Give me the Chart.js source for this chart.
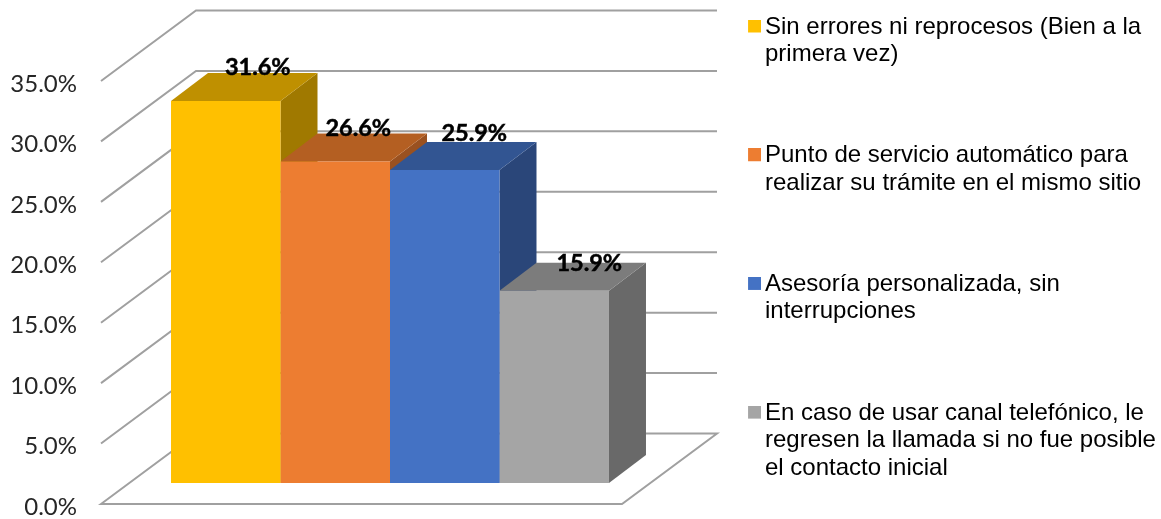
<!DOCTYPE html>
<html>
<head>
<meta charset="utf-8">
<style>html,body{margin:0;padding:0;background:#fff}canvas{display:block}</style>
<script src="https://cdn.jsdelivr.net/npm/chart.js@4"></script>
</head>
<body>
<canvas id="c" width="1161" height="519"></canvas>
<script>
const categories = [""];
const seriesNames = [
  "Sin errores ni reprocesos (Bien a la primera vez)",
  "Punto de servicio automático para realizar su trámite en el mismo sitio",
  "Asesoría personalizada, sin interrupciones",
  "En caso de usar canal telefónico, le regresen la llamada si no fue posible el contacto inicial"
];
const legendLines = [
  ["Sin errores ni reprocesos (Bien a la", "primera vez)", ""],
  ["Punto de servicio automático para", "realizar su trámite en el mismo sitio", ""],
  ["Asesoría personalizada, sin", "interrupciones", ""],
  ["En caso de usar canal telefónico, le", "regresen la llamada si no fue posible", "el contacto inicial"]
];
const seriesValues = [31.6, 26.6, 25.9, 15.9];
const frontColors = ["#FFC000", "#ED7D31", "#4472C4", "#A5A5A5"];
const topColors = ["#BF9000", "#B45F22", "#325592", "#7C7C7C"];
const sideColors = ["#A07900", "#9A5120", "#2A4679", "#696969"];
const labelNudge = [[32, -34], [23, -33], [29.5, -37], [35, -27]];

const WALL = {dx: 95, dy: -70.5};
const BAR = {dx: 37, dy: -28, shiftX: -19, shiftY: -21};
const GRID = "#A0A0A0";
const LEGEND_PAD = 46.5;

function swatch(color) {
  const cv = document.createElement("canvas");
  cv.width = 16; cv.height = 15;
  const g = cv.getContext("2d");
  g.fillStyle = color; g.fillRect(3, 0, 13, 13);
  return cv;
}
function poly(ctx, pts, fill) {
  ctx.beginPath();
  pts.forEach((p, i) => i ? ctx.lineTo(p[0], p[1]) : ctx.moveTo(p[0], p[1]));
  ctx.closePath();
  ctx.fillStyle = fill;
  ctx.fill();
}

const box3d = {
  id: "box3d",
  afterLayout(chart) {
    const l = chart.legend;
    l.left = 753 - LEGEND_PAD; l.right = 1300;
    l.top = 15 - LEGEND_PAD; l.bottom = 800;
  },
  beforeDatasetsDraw(chart) {
    const ctx = chart.ctx, y = chart.scales.y, a = chart.chartArea;
    const x0 = a.left, x1 = a.right;
    ctx.save();
    ctx.strokeStyle = GRID; ctx.lineWidth = 2; ctx.lineJoin = "miter";
    y.ticks.forEach(t => {
      const py = y.getPixelForValue(t.value);
      ctx.beginPath();
      ctx.moveTo(x0, py);
      ctx.lineTo(x0 + WALL.dx, py + WALL.dy);
      ctx.lineTo(x1, py + WALL.dy);
      if (t.value === 0) {
        ctx.lineTo(x1 - WALL.dx, py);
        ctx.closePath();
      }
      ctx.stroke();
    });
    // depth faces, left to right, under the fronts
    chart.data.datasets.forEach((d, i) => {
      const el = chart.getDatasetMeta(i).data[0];
      const L = el.x - el.width / 2 + BAR.shiftX, R = el.x + el.width / 2 + BAR.shiftX;
      const T = el.y + BAR.shiftY, B = el.base + BAR.shiftY;
      poly(ctx, [[R, T], [R + BAR.dx, T + BAR.dy], [R + BAR.dx, B + BAR.dy], [R, B]], sideColors[i]);
      poly(ctx, [[L, T], [L + BAR.dx, T + BAR.dy], [R + BAR.dx, T + BAR.dy], [R, T]], topColors[i]);
    });
    ctx.restore();
    ctx.save();
    ctx.translate(BAR.shiftX, BAR.shiftY);
  },
  afterDatasetsDraw(chart) {
    const ctx = chart.ctx;
    ctx.restore();
    ctx.save();
    ctx.font = "bold 23.5px Lato";
    ctx.fillStyle = "#000";
    ctx.strokeStyle = "#000";
    ctx.lineWidth = 0.5;
    ctx.textAlign = "center";
    ctx.textBaseline = "middle";
    chart.data.datasets.forEach((d, i) => {
      const el = chart.getDatasetMeta(i).data[0];
      const s = d.data[0].toFixed(1) + "%";
      const px = el.x + BAR.shiftX + labelNudge[i][0], py = el.y + BAR.shiftY + labelNudge[i][1];
      ctx.fillText(s, px, py);
      ctx.strokeText(s, px, py);
    });
    ctx.restore();
  }
};

new Chart(document.getElementById("c"), {
  type: "bar",
  data: {
    labels: categories,
    datasets: seriesNames.map((name, i) => ({
      label: name,
      data: [seriesValues[i]],
      backgroundColor: frontColors[i],
      clip: false,
      categoryPercentage: 0.711,
      barPercentage: 1
    }))
  },
  plugins: [box3d],
  options: {
    responsive: false,
    animation: false,
    layout: {padding: {top: 0, bottom: 15, left: 0, right: 44}},
    events: [],
    plugins: {
      tooltip: {enabled: false},
      title: {display: false},
      legend: {
        position: "right",
        align: "start",
        maxWidth: 400,
        labels: {
          usePointStyle: true,
          pointStyleWidth: 0.01,
          padding: LEGEND_PAD,
          color: "#111",
          font: {family: "Liberation Sans", size: 24, lineHeight: 27.4 / 24},
          generateLabels: chart => chart.data.datasets.map((d, i) => ({
            text: legendLines[i],
            fillStyle: frontColors[i],
            strokeStyle: frontColors[i],
            lineWidth: 0,
            hidden: false,
            datasetIndex: i,
            pointStyle: swatch(frontColors[i])
          }))
        }
      }
    },
    scales: {
      x: {display: false, grid: {display: false}},
      y: {
        min: 0,
        max: 41.7,
        border: {display: false},
        grid: {display: false, drawTicks: false},
        afterBuildTicks: s => { s.ticks = s.ticks.filter(t => t.value <= 35); },
        afterFit: s => { s.width = 101; s.paddingTop = 0; s.paddingBottom = 0; },
        ticks: {
          stepSize: 5,
          padding: 24,
          labelOffset: 3,
          color: "#262626",
          font: {family: "Lato", size: 24},
          callback: v => v.toFixed(1) + "%"
        }
      }
    }
  }
});
</script>
</body>
</html>
